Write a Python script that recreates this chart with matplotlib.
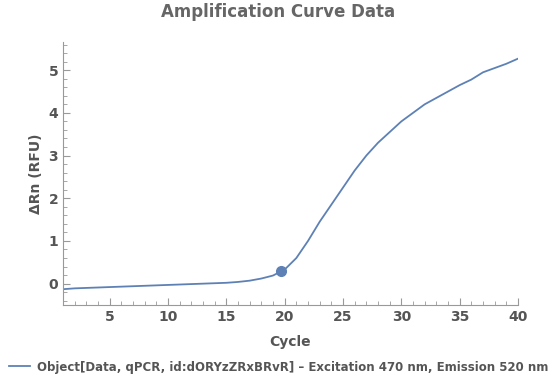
import numpy as np
import matplotlib
matplotlib.use('Agg')
import matplotlib.pyplot as plt
from matplotlib.ticker import MultipleLocator

# amplification curve, one value per cycle
cycles = list(range(1, 41))
delta_rn = [-0.13, -0.11, -0.10, -0.09, -0.08, -0.07, -0.06, -0.05, -0.04, -0.03,
            -0.02, -0.01, 0.00, 0.01, 0.02, 0.04, 0.07, 0.12, 0.19, 0.33,
            0.60, 1.00, 1.45, 1.85, 2.25, 2.65, 3.00, 3.30, 3.55, 3.80,
            4.00, 4.20, 4.35, 4.50, 4.65, 4.78, 4.95, 5.05, 5.15, 5.27]
ct_x = [19.7]
ct_y = [0.30]
legend_label = 'Object[Data, qPCR, id:dORYzZRxBRvR] – Excitation 470 nm, Emission 520 nm'

blue = '#5E81B5'
grey = '#555555'

fig = plt.figure(figsize=(5.57, 3.83), dpi=100)
ax = fig.add_axes([63/557, 1-305/383, (518-63)/557, (305-42)/383])

line, = ax.plot(cycles, delta_rn, color=blue, lw=1.3)
ax.plot(ct_x, ct_y, 'o', color=blue, ms=7)

ax.set_xlim(1, 40)
ax.set_ylim(-0.5, 5.66)
ax.xaxis.set_major_locator(MultipleLocator(5))
ax.xaxis.set_minor_locator(MultipleLocator(1))
ax.yaxis.set_major_locator(MultipleLocator(1))
ax.yaxis.set_minor_locator(MultipleLocator(0.2))
ax.set_xticks([5, 10, 15, 20, 25, 30, 35, 40])

for s in ['top', 'right']:
    ax.spines[s].set_visible(False)
for s in ['left', 'bottom']:
    ax.spines[s].set_color('#999999')
    ax.spines[s].set_linewidth(0.8)
ax.tick_params(which='both', direction='in', colors='#999999', labelcolor=grey)
ax.tick_params(which='major', length=5, labelsize=10)
ax.tick_params(which='minor', length=3)
for lab in ax.get_xticklabels() + ax.get_yticklabels():
    lab.set_fontweight('bold')

ax.set_xlabel('Cycle', fontsize=10, fontweight='bold', color=grey, labelpad=8)
ax.set_ylabel('ΔRn (RFU)', fontsize=10, fontweight='bold', color=grey, labelpad=4)
fig.text(0.5, 1-12/383, 'Amplification Curve Data', ha='center', va='center',
         fontsize=12, fontweight='bold', color='#666666')

fig.legend([line], [legend_label], loc='center', bbox_to_anchor=(0.5, 1-367/383),
           frameon=False, prop={'weight': 'bold', 'size': 8.5}, labelcolor=grey,
           handlelength=1.8, handletextpad=0.6)

fig.savefig('out.png', dpi=100)
